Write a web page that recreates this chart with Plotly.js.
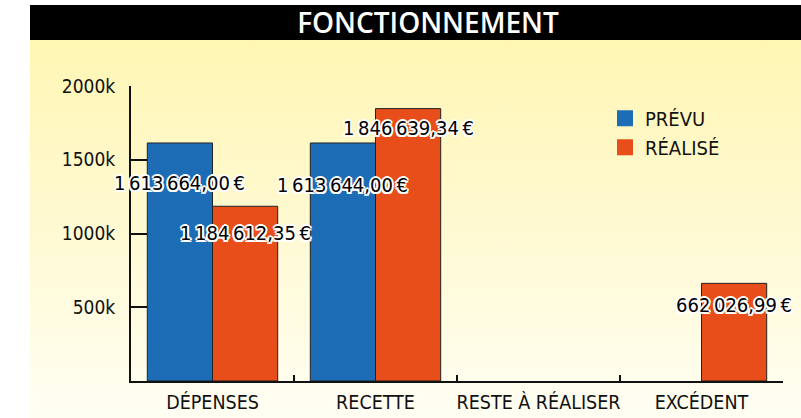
<!DOCTYPE html>
<html>
<head>
<meta charset="utf-8">
<script src="https://cdn.plot.ly/plotly-3.0.1.min.js"></script>
<style>
  html, body { margin: 0; padding: 0; background: #ffffff; width: 801px; height: 418px; overflow: hidden; }
  #bg { position: absolute; left: 30px; top: 40px; width: 771px; height: 378px;
        background: linear-gradient(to bottom, #FFF6B4 0%, #FFF9CF 45%, #FFFEF3 100%); }
  #bar { position: absolute; left: 30px; top: 5px; width: 771px; height: 35px; background: #000; }
  #chart { position: absolute; left: 0; top: 0; width: 801px; height: 418px; }
</style>
</head>
<body>
<div id="bg"></div>
<div id="bar"></div>
<div id="chart"></div>
<script>
// ---- data ----
const categories = ["DÉPENSES", "RECETTE", "RESTE À RÉALISER", "EXCÉDENT"];
const prevu   = [1613664.00, 1613644.00, null, null];
const realise = [1184612.35, 1846639.34, null, 662026.99];
const seriesNames = ["PRÉVU", "RÉALISÉ"];
const yTickVals = [0, 500000, 1000000, 1500000, 2000000];
const yTickText = ["", "500k", "1000k", "1500k", "2000k"];

// ---- style ----
const colors = ["#1C6DB6", "#E84E1A"];
const labelDropPrevu   = [40, 42, 0, 0];   // px below bar top
const labelDropRealise = [27, 19, 0, 22];

function fmtEuro(v) {
  const parts = v.toFixed(2).split(".");
  const intPart = parts[0].replace(/\B(?=(\d{3})+(?!\d))/g, "\u2009");
  return intPart + "," + parts[1] + "\u2009€";
}

const cond = "'DejaVu Sans Condensed', 'Liberation Sans Narrow', sans-serif";
const halo = "2px 0 0 #fff, -2px 0 0 #fff, 0 2px 0 #fff, 0 -2px 0 #fff, 1.5px 1.5px 0 #fff, -1.5px -1.5px 0 #fff, 1.5px -1.5px 0 #fff, -1.5px 1.5px 0 #fff";

const barLine = { color: "#222", width: 1 };
const traces = [
  { type: "bar", x: categories, y: prevu, name: seriesNames[0], showlegend: false,
    marker: { color: colors[0], line: barLine }, hoverinfo: "skip" },
  { type: "bar", x: categories, y: realise, name: seriesNames[1], showlegend: false,
    marker: { color: colors[1], line: barLine }, hoverinfo: "skip" },
  { type: "scatter", mode: "markers", x: [null], y: [null], name: seriesNames[0],
    marker: { symbol: "square", size: 16, color: colors[0] } },
  { type: "scatter", mode: "markers", x: [null], y: [null], name: seriesNames[1],
    marker: { symbol: "square", size: 16, color: colors[1] } }
];

const annotations = [];
[[prevu, -0.2, labelDropPrevu], [realise, 0.2, labelDropRealise]].forEach(([vals, off, drops]) => {
  vals.forEach((v, i) => {
    if (v === null) return;
    annotations.push({
      x: i + off, y: v, xref: "x", yref: "y", showarrow: false,
      text: fmtEuro(v), yshift: -drops[i], xanchor: "center", yanchor: "middle",
      font: { family: cond, size: 20, color: "#000", shadow: halo }
    });
  });
});

const layout = {
  width: 801, height: 418,
  paper_bgcolor: "rgba(0,0,0,0)", plot_bgcolor: "rgba(0,0,0,0)",
  margin: { l: 131, r: 18, t: 86, b: 37 },
  title: { text: "FONCTIONNEMENT", x: 428 / 801, xanchor: "center", y: 1 - 23 / 418, yanchor: "middle",
           yref: "container", xref: "container",
           font: { family: "'Open Sans', sans-serif", size: 28, color: "#fff", weight: 600 } },
  barmode: "group", bargap: 0.2, bargroupgap: 0,
  xaxis: { type: "category", range: [-0.5, 3.5], showline: true, linecolor: "#111", linewidth: 2,
           ticks: "inside", tickson: "boundaries", ticklen: 6, tickwidth: 2, tickcolor: "#111",
           tickangle: 0, ticklabelstandoff: 3, showgrid: false, zeroline: false, fixedrange: true,
           tickfont: { family: cond, size: 19.5, color: "#111" } },
  yaxis: { range: [0, 2000000], showline: true, linecolor: "#111", linewidth: 2,
           tickmode: "array", tickvals: yTickVals, ticktext: yTickText,
           ticks: "inside", ticklen: 16, tickwidth: 2, tickcolor: "#111", ticklabelstandoff: 10,
           showgrid: false, zeroline: false, fixedrange: true,
           tickfont: { family: cond, size: 19, color: "#111" } },
  legend: { x: 0.727, y: 0.957, xanchor: "left", yanchor: "top", bgcolor: "rgba(0,0,0,0)",
            itemwidth: 30, tracegroupgap: 0,
            font: { family: cond, size: 20, color: "#111" } },
  annotations: annotations,
  showlegend: true
};

Plotly.newPlot("chart", traces, layout, { staticPlot: true, displayModeBar: false });
</script>
</body>
</html>
